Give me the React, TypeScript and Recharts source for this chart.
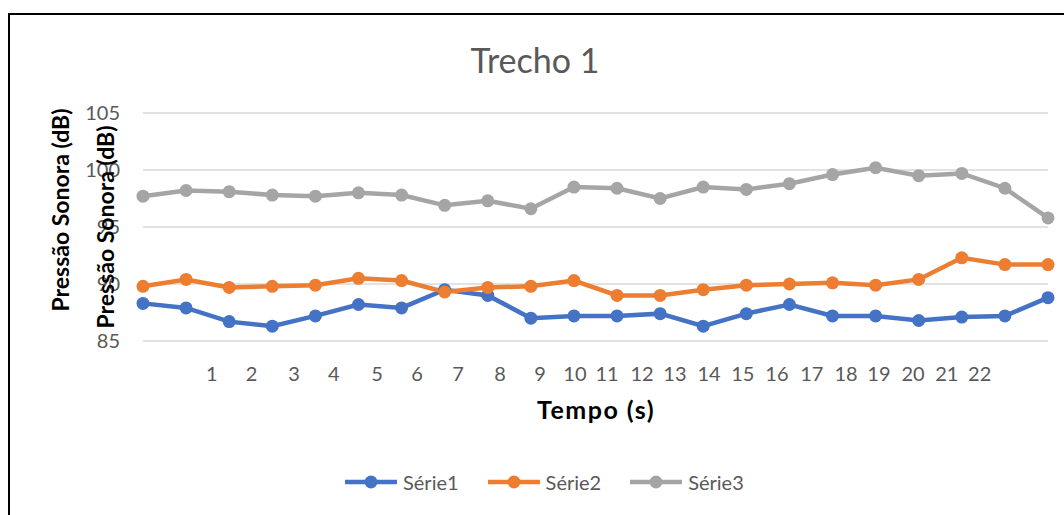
import { LineChart, Line, XAxis, YAxis, CartesianGrid } from "recharts";

const tempo = [
  "t0", "t1", "t2", "t3", "t4", "t5", "t6", "t7", "t8", "t9", "t10",
  "t11", "t12", "t13", "t14", "t15", "t16", "t17", "t18", "t19", "t20", "t21",
];
const serie1 = [
  88.3, 87.9, 86.7, 86.3, 87.2, 88.2, 87.9, 89.5, 89.0, 87.0, 87.2,
  87.2, 87.4, 86.3, 87.4, 88.2, 87.2, 87.2, 86.8, 87.1, 87.2, 88.8,
];
const serie2 = [
  89.8, 90.4, 89.7, 89.8, 89.9, 90.5, 90.3, 89.3, 89.7, 89.8, 90.3,
  89.0, 89.0, 89.5, 89.9, 90.0, 90.1, 89.9, 90.4, 92.3, 91.7, 91.7,
];
const serie3 = [
  97.7, 98.2, 98.1, 97.8, 97.7, 98.0, 97.8, 96.9, 97.3, 96.6, 98.5,
  98.4, 97.5, 98.5, 98.3, 98.8, 99.6, 100.2, 99.5, 99.7, 98.4, 95.8,
];
const yTicks = [85, 90, 95, 100, 105];
// x labels 1..22, where they sit along the category axis (in point index units)
const timeLabels = [
  "1", "2", "3", "4", "5", "6", "7", "8", "9", "10", "11",
  "12", "13", "14", "15", "16", "17", "18", "19", "20", "21", "22",
];
const timeTickAt = [
  1.17, 2.14, 3.17, 4.14, 5.19, 6.16, 7.16, 8.18, 9.15, 10.0, 10.78,
  11.63, 12.43, 13.26, 14.08, 14.91, 15.76, 16.59, 17.39, 18.22, 19.04, 19.84,
];

const series = [
  { key: "s1", name: "Série1", color: "#4472C4" },
  { key: "s2", name: "Série2", color: "#ED7D31" },
  { key: "s3", name: "Série3", color: "#A5A5A5" },
];

const data = tempo.map((t, i) => ({
  t,
  i,
  s1: serie1[i],
  s2: serie2[i],
  s3: serie3[i],
}));

const FONT = "Lato, 'Open Sans', sans-serif";
const GREY_TEXT = "#595959";

export default function App() {
  return (
    <div style={{ position: "relative", width: 1064, height: 515, fontFamily: FONT }}>
      <style>{"body{margin:0}"}</style>
      <div
        style={{
          position: "absolute",
          left: 8,
          top: 13,
          width: 1100,
          height: 600,
          borderTop: "2px solid #000",
          borderLeft: "2px solid #000",
        }}
      />
      <div style={{ position: "absolute", left: 0, top: 0 }}>
        <LineChart
          width={1064}
          height={515}
          data={data}
          margin={{ top: 113, right: 16, left: 0, bottom: 114 }}
        >
          <CartesianGrid vertical={false} stroke="#D9D9D9" strokeWidth={1.5} />
          <XAxis dataKey="t" hide height={0} />
          <XAxis
            xAxisId="lbl"
            type="number"
            dataKey="i"
            domain={[-0.5, 21.5]}
            ticks={timeTickAt}
            interval={0}
            tickFormatter={(_v: number, idx: number) => timeLabels[idx]}
            axisLine={false}
            tickLine={false}
            tickSize={0}
            tickMargin={26}
            height={60}
            allowDataOverflow
            tick={{ fill: GREY_TEXT, fontSize: 20, fontFamily: FONT }}
          />
          <YAxis
            domain={[85, 105]}
            ticks={yTicks}
            width={143}
            axisLine={false}
            tickLine={false}
            tickSize={0}
            tickMargin={23}
            tick={{ fill: GREY_TEXT, fontSize: 20, fontFamily: FONT }}
          />
          {series.map((s) => (
            <Line
              key={s.key}
              type="linear"
              dataKey={s.key}
              name={s.name}
              stroke={s.color}
              strokeWidth={4.5}
              dot={{ r: 6.5, fill: s.color, stroke: s.color, strokeWidth: 0 }}
              activeDot={false}
              isAnimationActive={false}
            />
          ))}
        </LineChart>
      </div>
      <svg
        width={1064}
        height={515}
        style={{ position: "absolute", left: 0, top: 0, pointerEvents: "none" }}
      >
        <text x={535} y={73} textAnchor="middle" fontSize={34} fill={GREY_TEXT} fontFamily={FONT}>
          Trecho 1
        </text>
        <text
          x={60}
          y={210}
          transform="rotate(-90 60 210)"
          textAnchor="middle"
          dominantBaseline="central"
          fontSize={23}
          fontWeight="bold"
          fill="#000"
          fontFamily={FONT}
        >
          Pressão Sonora (dB)
        </text>
        <text
          x={105}
          y={227}
          transform="rotate(-90 105 227)"
          textAnchor="middle"
          dominantBaseline="central"
          fontSize={23}
          fontWeight="bold"
          fill="#000"
          fontFamily={FONT}
        >
          Pressão Sonora (dB)
        </text>
        <text
          x={596}
          y={419}
          textAnchor="middle"
          fontSize={25}
          fontWeight="bold"
          letterSpacing={1.5}
          fill="#000"
          fontFamily={FONT}
        >
          Tempo (s)
        </text>
      </svg>
      <div
        style={{
          position: "absolute",
          left: 345,
          top: 470,
          display: "flex",
          alignItems: "center",
          gap: 29,
        }}
      >
        {series.map((s) => (
          <div key={s.key} style={{ display: "flex", alignItems: "center", gap: 6 }}>
            <svg width={52} height={16}>
              <line x1={0} y1={8} x2={52} y2={8} stroke={s.color} strokeWidth={4.5} />
              <circle cx={26} cy={8} r={6.5} fill={s.color} />
            </svg>
            <span style={{ fontSize: 20, color: GREY_TEXT, lineHeight: "24px" }}>{s.name}</span>
          </div>
        ))}
      </div>
    </div>
  );
}
